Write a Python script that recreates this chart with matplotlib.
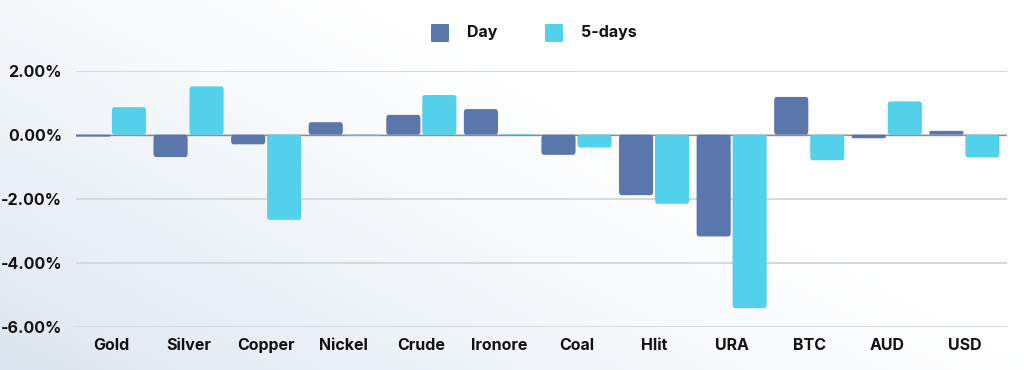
import numpy as np
import matplotlib
matplotlib.use("Agg")
import matplotlib.pyplot as plt
from matplotlib.patches import FancyBboxPatch

categories = ["Gold", "Silver", "Copper", "Nickel", "Crude", "Ironore",
              "Coal", "Hlit", "URA", "BTC", "AUD", "USD"]
day = [-0.06, -0.70, -0.30, 0.39, 0.62, 0.80, -0.63, -1.89, -3.18, 1.18, -0.11, 0.12]
five_days = [0.86, 1.51, -2.66, -0.03, 1.24, 0.02, -0.40, -2.16, -5.42, -0.80, 1.04, -0.71]
yticks = [2, 0, -2, -4, -6]
ytick_labels = ["2.00%", "0.00%", "-2.00%", "-4.00%", "-6.00%"]
series_names = ["Day", "5-days"]

c_day = "#5a76aa"
c_five = "#54d1ea"

plt.rcParams['font.family'] = ['Inter', 'DejaVu Sans']

fig = plt.figure(figsize=(10.24, 3.70), dpi=100)

# background gradient
bg = fig.add_axes([0, 0, 1, 1], zorder=-10)
H, W = 370, 1024
yy, xx = np.mgrid[0:H, 0:W]
t = np.clip(1.0 - (xx / W) * 0.9 - (1 - yy / H) * 0.6, 0, 1) ** 1.4
top = np.array([1.0, 1.0, 1.0])
bot = np.array([0.86, 0.90, 0.94])
img = top[None, None, :] * (1 - t[..., None]) + bot[None, None, :] * t[..., None]
bg.imshow(img, aspect='auto', extent=[0, 1, 0, 1], origin='upper')
bg.axis('off')

ax = fig.add_axes([76 / 1024, 1 - 326.7 / 370, (1007 - 76) / 1024, (326.7 - 70.7) / 370])
ax.set_facecolor('none')

x = np.arange(len(categories))
w = 0.44
off = 0.232
ASP = 4.0

def rbar(xc, val, color):
    y0 = min(0, val)
    hh = abs(val)
    rs = min(0.03, hh / (2 * ASP))
    p = FancyBboxPatch((xc - w / 2, y0), w, hh,
                       boxstyle=f"round,pad=0,rounding_size={rs:.5f}",
                       mutation_aspect=ASP,
                       facecolor=color, edgecolor='none', zorder=3)
    ax.add_patch(p)

for i in range(len(categories)):
    rbar(x[i] - off, day[i], c_day)
    rbar(x[i] + off, five_days[i], c_five)

ax.set_xlim(-0.451, len(categories) - 0.451)
ax.set_ylim(-6, 2)
ax.set_yticks(yticks)
ax.set_yticklabels(ytick_labels)
ax.set_xticks(x)
ax.set_xticklabels(categories)
for v in yticks:
    ax.axhline(v, color='#d6d9dd', lw=1.4, zorder=1)
ax.axhline(0, color='#8a8d92', lw=1.0, zorder=2)

for s in ax.spines.values():
    s.set_visible(False)
ax.tick_params(axis='both', length=0)
ax.tick_params(axis='y', pad=10, labelsize=11.5)
ax.tick_params(axis='x', pad=8, labelsize=11.5)
for lab in ax.get_xticklabels() + ax.get_yticklabels():
    lab.set_fontweight('bold')
    lab.set_color('#111111')

# legend
for px, col, name, tx in [(431, c_day, "Day", 467), (545, c_five, "5-days", 581)]:
    fig.patches.append(FancyBboxPatch((px / 1024, 1 - 42 / 370), 18 / 1024, 18 / 370,
                                      boxstyle="round,pad=0,rounding_size=0.002",
                                      transform=fig.transFigure, facecolor=col,
                                      edgecolor='none'))
    fig.text(tx / 1024, 1 - 33 / 370, name, ha='left', va='center',
             fontsize=11.5, fontweight='bold', color='#111111')

fig.savefig("out.png", dpi=100)
